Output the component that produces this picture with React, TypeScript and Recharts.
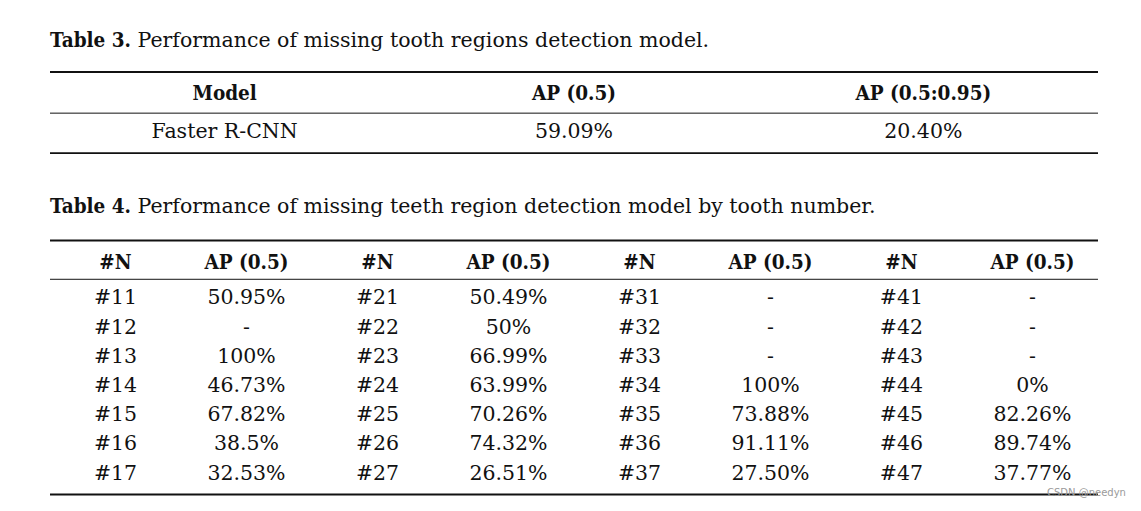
import { ScatterChart, Scatter, XAxis, YAxis, ReferenceLine } from 'recharts'

// Table 3
const table3Headers = ['Model', 'AP (0.5)', 'AP (0.5:0.95)']
const table3Models = ['Faster R-CNN']
const table3Ap50 = ['59.09%']
const table3Ap5095 = ['20.40%']

// Table 4 (one pair of columns per quadrant)
const table4Headers = ['#N', 'AP (0.5)', '#N', 'AP (0.5)', '#N', 'AP (0.5)', '#N', 'AP (0.5)']
const q1Teeth = ['#11', '#12', '#13', '#14', '#15', '#16', '#17']
const q1Ap = ['50.95%', '-', '100%', '46.73%', '67.82%', '38.5%', '32.53%']
const q2Teeth = ['#21', '#22', '#23', '#24', '#25', '#26', '#27']
const q2Ap = ['50.49%', '50%', '66.99%', '63.99%', '70.26%', '74.32%', '26.51%']
const q3Teeth = ['#31', '#32', '#33', '#34', '#35', '#36', '#37']
const q3Ap = ['-', '-', '-', '100%', '73.88%', '91.11%', '27.50%']
const q4Teeth = ['#41', '#42', '#43', '#44', '#45', '#46', '#47']
const q4Ap = ['-', '-', '-', '0%', '82.26%', '89.74%', '37.77%']

const FONT = '"DejaVu Serif", serif'
const BOLD_FONT = '"DejaVu Serif Condensed", "DejaVu Serif", serif'
const FONT_SIZE = 20.5
const INK = '#111'

type Cell = { col: number; row: number; label: string; bold?: boolean }

const HEADER_ROW_3 = 0
const HEADER_ROW_4 = -0.2

const cells3: Cell[] = [
  ...table3Headers.map((label, col) => ({ col, row: HEADER_ROW_3, label, bold: true })),
  ...table3Models.map((label, i) => ({ col: 0, row: i + 1, label })),
  ...table3Ap50.map((label, i) => ({ col: 1, row: i + 1, label })),
  ...table3Ap5095.map((label, i) => ({ col: 2, row: i + 1, label })),
]

const table4Cols = [q1Teeth, q1Ap, q2Teeth, q2Ap, q3Teeth, q3Ap, q4Teeth, q4Ap]
const cells4: Cell[] = [
  ...table4Headers.map((label, col) => ({ col, row: HEADER_ROW_4, label, bold: true })),
  ...table4Cols.flatMap((values, col) => values.map((label, i) => ({ col, row: i + 1, label }))),
]

const renderCell = (props: any) => {
  const { cx, cy, payload } = props
  return (
    <text
      x={cx}
      y={cy}
      textAnchor="middle"
      dominantBaseline="central"
      fontFamily={payload.bold ? BOLD_FONT : FONT}
      fontSize={FONT_SIZE}
      fontWeight={payload.bold ? 700 : 400}
      fill={INK}
    >
      {payload.label}
    </text>
  )
}

function TableChart({
  data,
  cols,
  domain,
  top,
  height,
  rules,
}: {
  data: Cell[]
  cols: number
  domain: [number, number]
  top: number
  height: number
  rules: Array<{ y: number; w: number }>
}) {
  return (
    <div style={{ position: 'absolute', left: 0, top }}>
      <ScatterChart width={1141} height={height} margin={{ top: 0, right: 43, bottom: 0, left: 50 }}>
        <XAxis type="number" dataKey="col" domain={[-0.5, cols - 0.5]} allowDataOverflow hide />
        <YAxis type="number" dataKey="row" domain={domain} allowDataOverflow reversed hide />
        {rules.map((r, i) => (
          <ReferenceLine key={i} y={r.y} stroke={INK} strokeWidth={r.w} />
        ))}
        <Scatter data={data} shape={renderCell} isAnimationActive={false} />
      </ScatterChart>
    </div>
  )
}

const titleStyle = {
  position: 'absolute' as const,
  left: 50,
  fontFamily: FONT,
  fontSize: FONT_SIZE,
  color: INK,
  whiteSpace: 'nowrap' as const,
  lineHeight: '24px',
}

const boldStyle = { fontFamily: BOLD_FONT, fontWeight: 700 }

export default function App() {
  return (
    <div style={{ position: 'absolute', left: 0, top: 0, width: 1141, height: 511, background: '#fff' }}>
      <div style={{ ...titleStyle, top: 28 }}>
        <span style={boldStyle}>Table 3.</span> Performance of missing tooth regions detection model.
      </div>
      <TableChart
        data={cells3}
        cols={3}
        domain={[-0.6, 1.6]}
        top={70}
        height={84}
        rules={[
          { y: -0.55, w: 2 },
          { y: 0.53, w: 1 },
          { y: 1.58, w: 2 },
        ]}
      />
      <div style={{ ...titleStyle, top: 194 }}>
        <span style={boldStyle}>Table 4.</span> Performance of missing teeth region detection model by tooth number.
      </div>
      <TableChart
        data={cells4}
        cols={8}
        domain={[-1, 8]}
        top={238.6}
        height={262.8}
        rules={[
          { y: -0.95, w: 2 },
          { y: 0.38, w: 1 },
          { y: 7.75, w: 2 },
        ]}
      />
      <div
        style={{
          position: 'absolute',
          left: 1047,
          top: 487,
          fontFamily: '"DejaVu Sans", sans-serif',
          fontSize: 10,
          color: '#9a9a9a',
        }}
      >
        CSDN @needyn
      </div>
    </div>
  )
}
